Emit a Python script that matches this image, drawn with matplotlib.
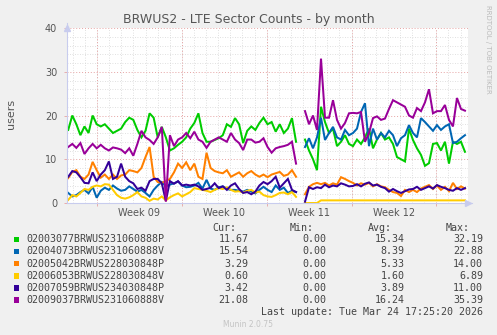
import numpy as np
import matplotlib
matplotlib.use("Agg")
import matplotlib.pyplot as plt
from matplotlib.patches import Rectangle
import matplotlib.transforms as mtransforms

W, H = 497, 335

# ---------------- data (days since left edge of graph) ----------------
t_seg1 = np.linspace(0.1, 18.9, 57)
t_seg2 = np.linspace(19.64, 32.84, 41)

green1 = [16.7, 20, 18, 15.5, 17.5, 16, 20, 18, 17.5, 18, 17, 16, 16.5, 17, 18.5, 19.5, 19, 16.7, 15, 16.5,
          20.5, 19.5, 15, 17.4, 15, 12, 12.5, 13.3, 14, 15, 17, 18.3, 20.5, 16, 14, 14, 14.4, 14.8, 15.5, 18,
          17.4, 19.4, 18, 13.7, 16.5, 17.5, 16.7, 18.3, 19.5, 18, 18.5, 16.3, 18, 16, 17, 19.4, 14]
green2 = [14.5, 12, 10, 7.5, 22, 18.5, 16, 17, 13, 14, 15.5, 13.5, 13, 14.5, 13.5, 15, 17, 12.5, 14.5, 16,
          14.5, 15, 13.5, 10.5, 10, 9.5, 17, 14.4, 12.5, 11, 8.5, 9.1, 13.5, 13.7, 12, 14, 9, 14, 13.5, 14, 11.7]

blue1 = [2.3, 1.5, 1.8, 2.5, 3, 2.2, 3.7, 1.2, 2.8, 3.5, 3, 4, 3.3, 2.8, 3, 3.8, 3.2, 2.6, 3, 2.3,
         1.5, 3, 4, 4.8, 3.8, 4.2, 4.5, 4.9, 4, 3.6, 3.7, 4, 4.6, 3.3, 5.3, 3.3, 3, 3.6, 3.8, 3.2,
         3, 3, 2.8, 2.6, 3, 2.6, 2.2, 3, 3.7, 3, 2.5, 4, 3, 3.5, 2.3, 2.8, 2.5]
blue2 = [12.8, 14.8, 12.5, 15, 19.5, 14.4, 16, 17.4, 15, 14.5, 16.7, 15.5, 16, 17, 20.8, 22.8, 13, 17, 14.5, 16,
         15, 16.5, 15.5, 13, 14.8, 15.5, 17.8, 16, 15, 19.4, 18.5, 17.5, 16.5, 17.8, 16.7, 17.5, 18, 13.7, 14, 14.8, 15.5]

orange1 = [5.7, 7.1, 7.5, 6, 5.5, 6.5, 9.4, 7.5, 5.8, 6.5, 5.5, 6.5, 5.5, 6.3, 6.5, 7.5, 7.3, 7, 8, 10.5,
           12.8, 6, 4.8, 4.6, 5, 5.5, 7, 9, 8, 9.3, 7.5, 9, 6, 5.5, 11.5, 8, 7.3, 7, 6.8, 7.5,
           6, 6.5, 7, 6, 6.8, 7.3, 6.5, 6, 6.5, 5.9, 6.5, 6.8, 7.1, 6.2, 6.5, 7.5, 6]
orange2 = [2, 3.7, 4.3, 4.6, 4.3, 4.6, 4, 4.5, 4.2, 5.9, 5.5, 5, 4.6, 4, 4.5, 4.2, 4.6, 3.8, 4.3, 3.8,
           3.6, 3, 2.5, 2.3, 1.6, 3, 2.5, 3, 2.5, 3.3, 3.7, 4.1, 3.2, 4, 3, 3.7, 2.7, 4.6, 3.2, 3.8, 3.3]

yellow1 = [0.7, 1.8, 1.5, 2.3, 3.2, 3, 3.7, 4, 3.8, 4.3, 4.2, 3, 1.8, 1.2, 1, 1.3, 1.8, 2.5, 1.5, 1.2,
           0.5, 1, 0.8, 1.5, 0.6, 1.3, 1.8, 2.2, 1.5, 2, 2.5, 3.4, 3.2, 3, 2.8, 2.5, 3, 3.4, 3.2, 3.6,
           3, 2.6, 2.7, 2.4, 2.8, 3, 2.4, 2.6, 1.8, 1.5, 1.4, 1.8, 2.3, 2.4, 2, 2.5, 1.4]
yellow2 = [0, 0, 0, 0, 0.6, 0.6, 0.6, 0.6, 0.6, 0.6, 0.6, 0.6, 0.6, 0.6, 0.6, 0.6, 0.6, 0.6, 0.6, 0.6,
           0.6, 0.6, 0.6, 0.6, 0.6, 0.6, 0.6, 0.6, 0.6, 0.6, 0.6, 0.6, 0.6, 0.6, 0.6, 0.6, 0.6, 0.6, 0.6, 0.6, 0.6]

indigo1 = [6, 7.3, 7, 5.9, 4.6, 4.5, 7, 5, 6.5, 7.5, 9.5, 5.5, 6, 9, 6, 5, 4.5, 3.2, 3.5, 2.8,
           5, 5.5, 5.5, 4.5, 0.5, 5, 4.4, 5, 4, 4.2, 4, 4.2, 3.8, 3, 3.2, 3.5, 4.5, 3.4, 3.8, 3,
           4, 4.5, 3.2, 2.3, 2.5, 2, 2.6, 4, 4.8, 4.3, 5, 6, 3.5, 4.5, 5.5, 3, 2.5]
indigo2 = [0.3, 3.6, 3.2, 3.6, 3.4, 4.2, 3.6, 4, 3.8, 4.5, 4.2, 3.8, 3.9, 4.3, 3.8, 4.4, 4.7, 4, 4.2, 3.7,
           3.4, 2.6, 3.2, 2.7, 2.3, 2.7, 3.1, 3.2, 3.7, 3, 3.4, 3.8, 3.3, 4.1, 3.7, 3.4, 3, 2.8, 3.4, 3, 3.4]

purple1 = [12.8, 13.5, 12.6, 13.7, 11.2, 12.5, 13.5, 12.5, 13.3, 12.5, 12, 12.7, 12.5, 12.2, 11.4, 12.5, 10.8, 13.5, 16.5, 15,
           14.4, 13.5, 15, 17.4, 0.3, 15.5, 13, 14.5, 15, 16, 14.8, 16.3, 14.5, 14, 12.6, 14, 14.5, 15, 14.5, 14,
           16, 14.5, 13.7, 12.1, 14.5, 14.5, 13.8, 14, 14.8, 12.8, 11.5, 12.5, 12.8, 13, 13.3, 14, 9]
purple2 = [21, 18, 20, 16.7, 33, 19.5, 19.5, 23.5, 19, 17, 18.3, 20.5, 20.6, 20.5, 20.8, 14, 16, 19.4, 19.8, 19,
           19.3, 21.5, 23.5, 23, 22.5, 22, 20, 19.5, 21.7, 21, 23, 26, 20.5, 21, 21, 22.4, 19, 17.5, 24, 21.5, 21.1]

names = ["02003077BRWUS231060888P", "02004073BRWUS231060888V", "02005042BRWUS228030848P",
         "02006053BRWUS228030848V", "02007059BRWUS234030848P", "02009037BRWUS231060888V"]
colors = ["#00CC00", "#0066B3", "#FF8000", "#FFCC00", "#330099", "#990099"]
cur_vals = ["11.67", "15.54", "3.29", "0.60", "3.42", "21.08"]
min_vals = ["0.00", "0.00", "0.00", "0.00", "0.00", "0.00"]
avg_vals = ["15.34", "8.39", "5.33", "1.60", "3.89", "16.24"]
max_vals = ["32.19", "22.88", "14.00", "6.89", "11.00", "35.39"]
week_labels = ["Week 09", "Week 10", "Week 11", "Week 12"]
y_ticks = [0, 10, 20, 30, 40]

series = [(green1, green2), (blue1, blue2), (orange1, orange2),
          (yellow1, yellow2), (indigo1, indigo2), (purple1, purple2)]

# ---------------- figure ----------------
BG = "#F0F0F0"
fig = plt.figure(figsize=(W / 100, H / 100), dpi=100, facecolor=BG)
x0, x1, y0, y1 = 67, 468, 28, 203
ax = fig.add_axes([x0 / W, 1 - y1 / H, (x1 - x0) / W, (y1 - y0) / H])
ax.set_facecolor("white")

span_days = 33.09
first_week = 2.48
ax.set_xlim(0, span_days)
ax.set_ylim(0, 40)

week_lines = [first_week + 7 * k for k in range(5)]
day_lines = list(np.arange(first_week - 2, span_days, 1.0))

# grid
for d in day_lines:
    ax.axvline(d, color="#D6D6D6", lw=0.6, ls=(0, (1, 2)), zorder=0)
for v in np.arange(2, 40, 2):
    if v % 10:
        ax.axhline(v, color="#D6D6D6", lw=0.6, ls=(0, (1, 2)), zorder=0)
for w in week_lines:
    ax.axvline(w, color="#E6A3A3", lw=0.7, ls=(0, (1, 2)), zorder=0.5)
for v in [10, 20, 30, 40]:
    ax.axhline(v, color="#E6A3A3", lw=0.7, ls=(0, (1, 2)), zorder=0.5)

# data lines
for (s1, s2), c in zip(series, colors):
    t = np.concatenate([t_seg1, [19.3], t_seg2])
    v = np.concatenate([s1, [np.nan], s2])
    ax.plot(t, v, color=c, lw=1.45, solid_joinstyle="miter", zorder=2)

# axes styling
for sp in ["top", "right"]:
    ax.spines[sp].set_visible(False)
ax.spines["left"].set_color("#C8CCEE")
ax.spines["bottom"].set_color("#C8CCEE")
ax.spines["left"].set_linewidth(0.8)
ax.spines["bottom"].set_linewidth(0.8)
ax.spines["bottom"].set_zorder(3)

ax.set_yticks(y_ticks)
ax.set_yticklabels([str(v) for v in y_ticks])
ax.set_xticks(week_lines)
ax.set_xticklabels([])
ax.tick_params(axis="y", length=2, width=0.6, color="#E6A3A3", pad=5, labelsize=7, labelcolor="#555555")
ax.tick_params(axis="x", length=2, width=0.6, color="#E6A3A3", labelsize=7)

trans = mtransforms.blended_transform_factory(ax.transData, fig.transFigure)
for k, lab in enumerate(week_labels):
    ax.text(first_week + 3.5 + 7 * k, 1 - 212.5 / H, lab, transform=trans,
            ha="center", va="center", fontsize=7, color="#555555")

# arrows
ax.plot([0], [1.0], marker="^", ms=4, color="#C8CCEE", transform=ax.transAxes, clip_on=False, zorder=4)
ax.plot([1.0], [0], marker=">", ms=4, color="#C8CCEE", transform=ax.transAxes, clip_on=False, zorder=4)
ax.plot([0, 0], [1.0, 1.03], color="#C8CCEE", lw=0.8, transform=ax.transAxes, clip_on=False)
ax.plot([1.0, 1.01], [0, 0], color="#C8CCEE", lw=0.8, transform=ax.transAxes, clip_on=False)


def ftext(x, y, s, **kw):
    fig.text(x / W, 1 - y / H, s, **kw)


ftext(248.5, 19, "BRWUS2 - LTE Sector Counts - by month", ha="center", va="center",
      fontsize=9, color="#555555")
ftext(11, 114, "users", ha="center", va="center", rotation=90, fontsize=8, color="#555555")
ftext(488, 5, "RRDTOOL / TOBI OETIKER", ha="center", va="top", rotation=270,
      fontsize=5, color="#BBBBBB")

mono = dict(family="DejaVu Sans Mono", fontsize=7.2, color="#444444", va="center")
header_y = 228
for label, xr in zip(["Cur:", "Min:", "Avg:", "Max:"], [236, 314, 392, 470]):
    ftext(xr, header_y, label, ha="right", **mono)

row_y = [239.5, 251.5, 263.7, 275.8, 287.8, 299.8]
for i in range(6):
    yy = row_y[i]
    fig.patches.append(Rectangle((14 / W, 1 - (yy + 2.7) / H), 5.4 / W, 5.4 / H,
                                 transform=fig.transFigure, facecolor=colors[i], edgecolor="none"))
    ftext(26.5, yy, names[i], ha="left", **mono)
    for vals, xr in zip([cur_vals, min_vals, avg_vals, max_vals], [248.5, 326.5, 404.5, 483]):
        ftext(xr, yy, vals[i], ha="right", **mono)

ftext(483, 312, "Last update: Tue Mar 24 17:25:20 2026", ha="right", **mono)
ftext(248, 324.5, "Munin 2.0.75", ha="center", va="center", fontsize=5.5, color="#C4C4C4")

fig.savefig("out.png", dpi=100, facecolor=BG)
